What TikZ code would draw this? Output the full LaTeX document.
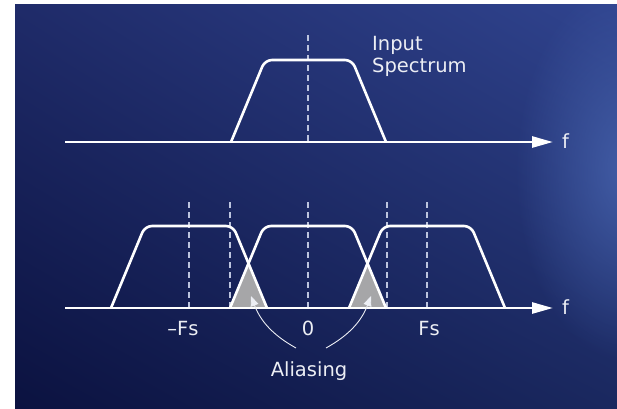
\documentclass[tikz,border=0pt]{standalone}
\usepackage{fontspec}
\setmainfont{DejaVu Sans}
\usetikzlibrary{arrows.meta,fadings,shadings}

\definecolor{bgtl}{HTML}{1F2B69}
\definecolor{bgtr}{HTML}{30448F}
\definecolor{bgbl}{HTML}{0B1240}
\definecolor{bgbr}{HTML}{1A285F}
\definecolor{bgglow}{HTML}{4662AC}
\definecolor{guidecol}{HTML}{BCC4DE}
\definecolor{aliasgray}{HTML}{A6A6A8}
\definecolor{labelcol}{HTML}{ECEEF4}

\tikzfading[name=glowfade, inner color=transparent!15, outer color=transparent!100]

\tikzset{
    axisline/.style={white, line width=2.7pt, -{Triangle[length=21pt,width=11pt]}},
    band/.style={white, line width=2.6pt, rounded corners=7pt, line join=round},
    guide/.style={guidecol, line width=1.2pt, dash pattern=on 6pt off 4pt},
    aliasfill/.style={fill=aliasgray},
    pointer/.style={labelcol, line width=0.9pt, -{Triangle[length=10pt,width=8pt]}},
    label/.style={text=labelcol, font=\fontsize{19.5}{23}\selectfont, inner sep=0pt}
}

\begin{document}
\begin{tikzpicture}[x=1pt, y=-1pt]
    \useasboundingbox (0,0) rectangle (617,408);
    % background
    \fill[white] (0,0) rectangle (617,408);
    \shade[upper left=bgtl, upper right=bgtr, lower left=bgbl, lower right=bgbr] (15,4) rectangle (617,408);
    \begin{scope}
        \clip (15,4) rectangle (617,408);
        \fill[bgglow, path fading=glowfade, fit fading=true] (625,170) ellipse (110 and 190);
    \end{scope}

    % input spectrum
    \draw[guide] (308,35) -- (308,142);
    \draw[band] (231,142) -- (265,60) -- (352,60) -- (386,142);
    \draw[axisline] (65,142) -- (553,142);
    \node[label, anchor=west] (f1) at (562,141) {f};
    \node[label, anchor=base west] (input) at (372,50) {Input};
    \node[label, anchor=base west] (spectrum) at (372,72) {Spectrum};

    % sampled spectrum
    \draw[guide] (189,202) -- (189,308);
    \draw[guide] (230,202) -- (230,308);
    \draw[guide] (308,202) -- (308,308);
    \draw[guide] (387,202) -- (387,308);
    \draw[guide] (427,202) -- (427,308);
    \coordinate (lapex) at (248.5,263.5);
    \coordinate (rapex) at (367.5,263.5);
    \fill[aliasfill] (230,308) -- (lapex) -- (267,308) -- cycle;
    \fill[aliasfill] (349,308) -- (rapex) -- (386,308) -- cycle;
    \draw[band] (111,308) -- (145,226) -- (233,226) -- (267,308);
    \draw[band] (230,308) -- (264,226) -- (352,226) -- (386,308);
    \draw[band] (349,308) -- (383,226) -- (471,226) -- (505,308);
    \draw[axisline] (65,308) -- (553,308);
    \node[label, anchor=west] (f2) at (562,307) {f};

    \node[label, anchor=base] (mfs) at (183,335) {–Fs};
    \node[label, anchor=base] (zero) at (308,335) {0};
    \node[label, anchor=base] (fs) at (429,335) {Fs};
    \node[label, anchor=base] (alias) at (309,376) {Aliasing};

    \coordinate (lhit) at (251,296);
    \coordinate (rhit) at (371,296);
    \draw[pointer] ([xshift=-13pt,yshift=13pt]alias.north) to[bend left=20] (lhit);
    \draw[pointer] ([xshift=17pt,yshift=13pt]alias.north) to[bend right=20] (rhit);
\end{tikzpicture}
\end{document}
